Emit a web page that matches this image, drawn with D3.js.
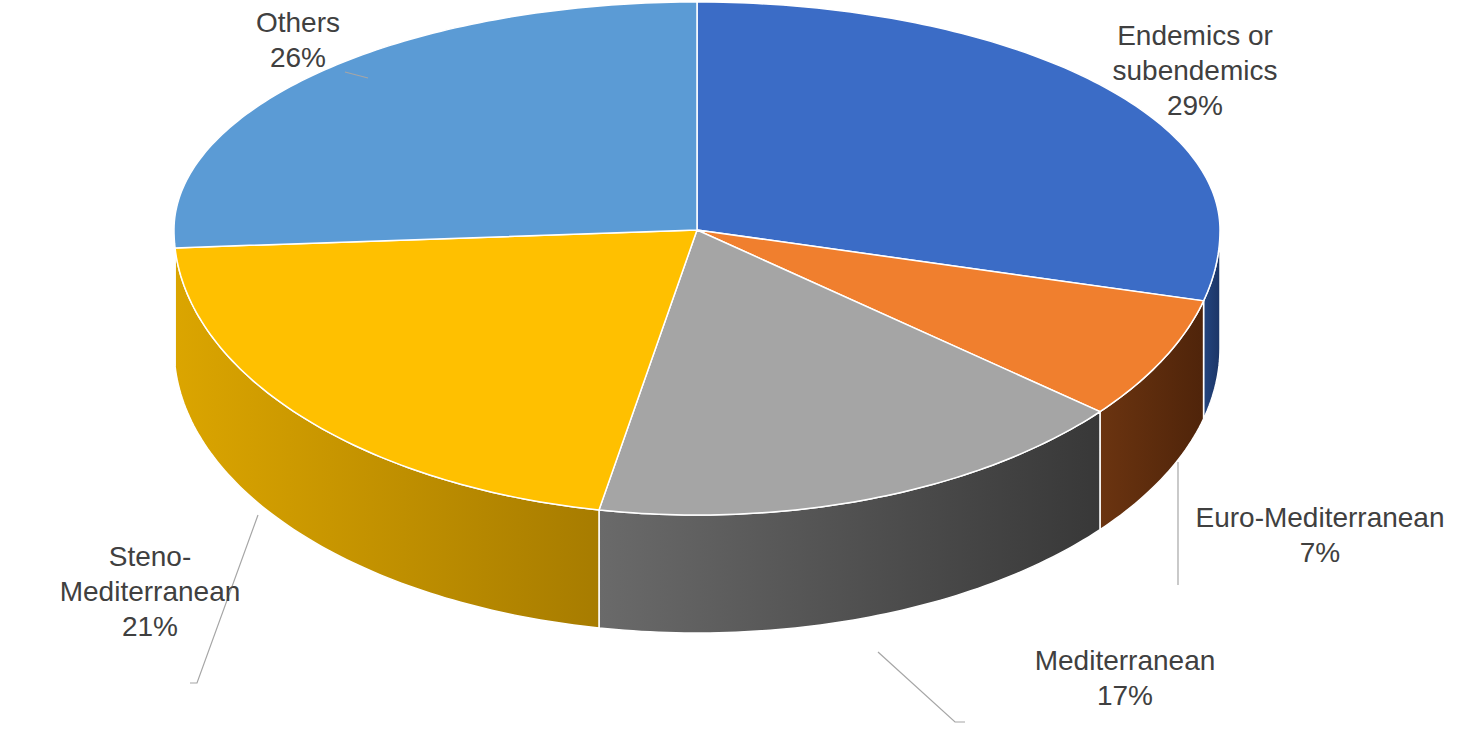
<!DOCTYPE html>
<html><head><meta charset="utf-8">
<script src="https://cdn.jsdelivr.net/npm/d3@7"></script>
<style>body{margin:0;background:#fff}text{font-family:"Liberation Sans",Arial,sans-serif;fill:#404040;font-size:28px}</style>
</head><body><svg id="chart" width="1476" height="732"></svg>
<script>
const categories = ["Endemics or subendemics", "Euro-Mediterranean", "Mediterranean", "Steno-Mediterranean", "Others"];
const values = [29, 7, 17, 21, 26];
const topColors = ["#3b6cc6", "#f07f2e", "#a5a5a5", "#ffc000", "#5b9bd5"];
const sideColors = [["#24457f", "#1c3566"], ["#6b3410", "#4f240a"], ["#6a6a6a", "#383838"], ["#dba500", "#a77c00"], ["#3b6a96", "#2b5177"]];
const labelLines = [["Endemics or", "subendemics", "29%"], ["Euro-Mediterranean", "7%"], ["Mediterranean", "17%"], ["Steno-", "Mediterranean", "21%"], ["Others", "26%"]];

// perspective: the far half of the ellipse is flatter than the near half
const cx = 697, cy = 230, rx = 523, ryFar = 228, ryNear = 285, depth = 118;
const svg = d3.select("#chart");
const defs = svg.append("defs");
const pie = d3.pie().sort(null).value(d => d)(values);
const pt = (t, dy) => {
  const c = Math.cos(t);
  return [cx + rx * Math.sin(t), cy - (c > 0 ? ryFar : ryNear) * c + dy];
};

function arcPts(t0, t1, dy) {
  const n = Math.max(2, Math.ceil(Math.abs(t1 - t0) * 60));
  return d3.range(n + 1).map(i => pt(t0 + (t1 - t0) * i / n, dy));
}
const line = d3.line();

// side walls (front half only)
pie.forEach((s, i) => {
  const t0 = Math.max(s.startAngle, Math.PI / 2), t1 = Math.min(s.endAngle, 3 * Math.PI / 2);
  if (t1 <= t0) return;
  const g = defs.append("linearGradient").attr("id", "side" + i)
    .attr("gradientUnits", "userSpaceOnUse")
    .attr("x1", pt(t1, 0)[0]).attr("x2", pt(t0, 0)[0]).attr("y1", 0).attr("y2", 0);
  g.append("stop").attr("offset", 0).attr("stop-color", sideColors[i][0]);
  g.append("stop").attr("offset", 1).attr("stop-color", sideColors[i][1]);
  const pts = arcPts(t0, t1, 0).concat(arcPts(t1, t0, depth));
  svg.append("path").attr("d", line(pts) + "Z")
    .attr("fill", `url(#side${i})`).attr("stroke", "#fff").attr("stroke-width", 1.5);
});

// top faces
pie.forEach((s, i) => {
  const pts = [[cx, cy]].concat(arcPts(s.startAngle, s.endAngle, 0));
  svg.append("path").attr("d", line(pts) + "Z")
    .attr("fill", topColors[i]).attr("stroke", "#fff").attr("stroke-width", 1.5);
});

// leader lines
const leaders = [null, [[1178, 462], [1178, 585]], [[878, 652], [955, 722], [965, 722]], [[258, 515], [197, 683], [190, 683]], [[345, 72], [368, 78]]];
leaders.forEach(l => { if (l) svg.append("path").attr("d", line(l)).attr("fill", "none").attr("stroke", "#a6a6a6").attr("stroke-width", 1.2); });

// labels
const labelAnchor = [[1195, 45], [1320, 527], [1125, 670], [150, 566], [298, 32]];
labelLines.forEach((ls, i) => {
  const t = svg.append("text").attr("text-anchor", "middle")
    .attr("x", labelAnchor[i][0]).attr("y", labelAnchor[i][1]);
  ls.forEach((s, j) => t.append("tspan").attr("x", labelAnchor[i][0]).attr("dy", j ? 35 : 0).text(s));
});
</script></body></html>
